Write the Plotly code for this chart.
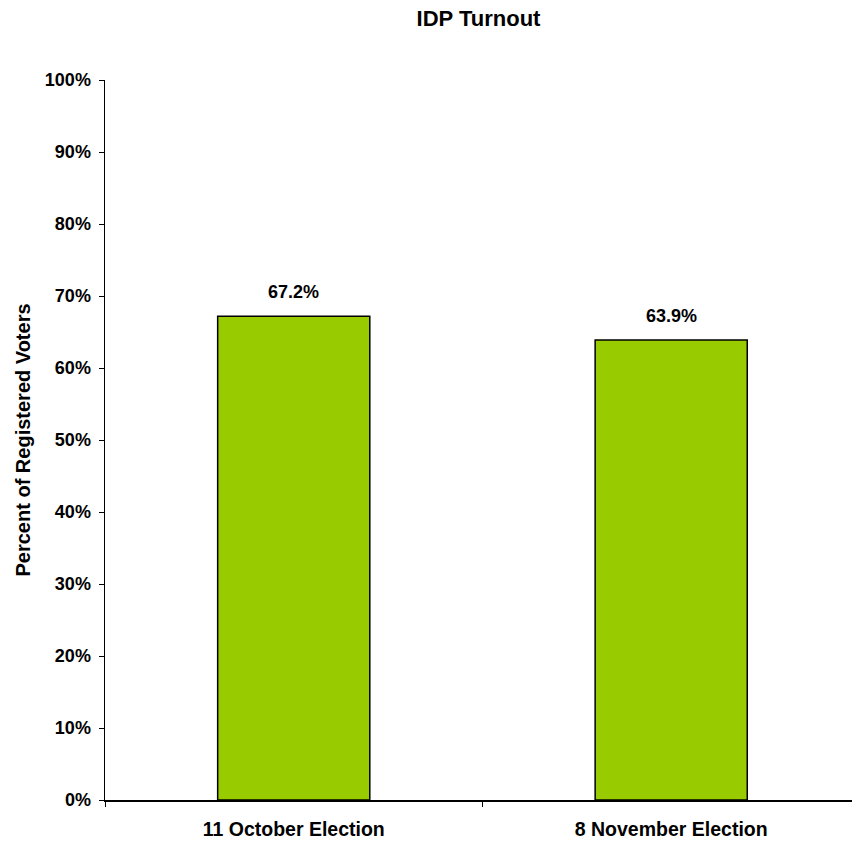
import plotly.graph_objects as go

categories = ["11 October Election", "8 November Election"]
turnout = [0.672, 0.639]
labels = ["67.2%", "63.9%"]

FONT = "Liberation Sans, Arial, sans-serif"

fig = go.Figure()
fig.add_trace(go.Bar(
    x=categories, y=turnout,
    width=0.403,
    marker=dict(color="#99CC00", line=dict(color="black", width=1.5)),
    hoverinfo="skip",
))

for c, v, t in zip(categories, turnout, labels):
    fig.add_annotation(x=c, y=v, text="<b>%s</b>" % t, showarrow=False,
                       yanchor="bottom", yshift=12,
                       font=dict(family=FONT, size=18, color="black"))

fig.update_layout(
    width=852, height=844,
    margin=dict(l=105, r=0, t=80, b=44, autoexpand=False),
    plot_bgcolor="white", paper_bgcolor="white",
    showlegend=False,
    font=dict(family=FONT, size=18, color="black"),
    title=dict(text="<b>IDP Turnout</b>", x=0.5, xref="paper", xanchor="center",
               y=1 - 18 / 844, yref="container", yanchor="middle",
               font=dict(family=FONT, size=22, color="black")),
)

fig.update_xaxes(
    type="category", range=[-0.5, 1.479],
    showline=True, linecolor="black", linewidth=1.5,
    ticks="outside", tickson="boundaries", ticklen=5, tickcolor="black", tickwidth=1,
    showgrid=False, zeroline=False, automargin=False,
    ticklabelstandoff=11,
    tickfont=dict(family=FONT, size=19.5, color="black"),
    tickprefix="<b>", ticksuffix="</b>",
)

fig.update_yaxes(
    range=[0, 1], dtick=0.1, tickformat=".0%",
    showline=True, linecolor="black", linewidth=1.5,
    ticks="outside", ticklen=5, tickcolor="black", tickwidth=1,
    showgrid=False, zeroline=False, automargin=False,
    ticklabelstandoff=4,
    tickfont=dict(family=FONT, size=18, color="black"),
    tickprefix="<b>", ticksuffix="</b>",
    title=dict(text="<b>Percent of Registered Voters</b>", standoff=9,
               font=dict(family=FONT, size=20, color="black")),
)

fig.write_html("out.html",
               config={"displayModeBar": False, "staticPlot": True},
               post_script="document.body.style.margin='0';document.body.style.overflow='hidden';")
